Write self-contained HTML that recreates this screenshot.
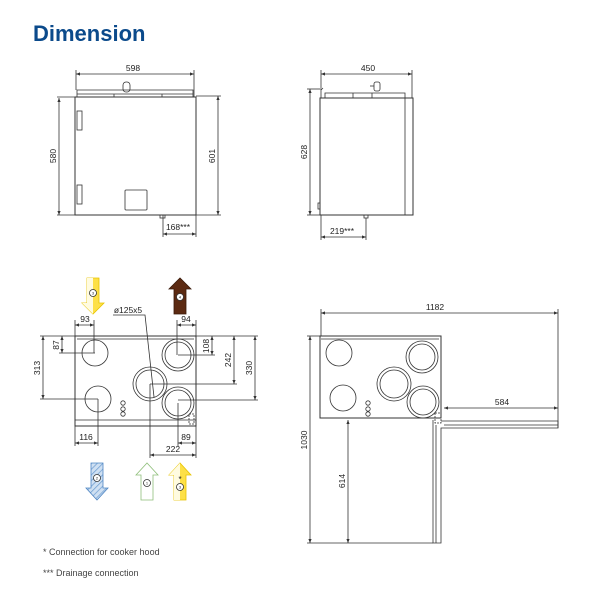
<!DOCTYPE html>
<html><head><meta charset="utf-8"><style>
html,body{margin:0;padding:0;background:#fff;width:601px;height:601px;overflow:hidden}
svg{display:block}
text{font-family:"Liberation Sans",Arial,sans-serif;fill:#222}
</style></head><body>
<svg width="601" height="601" viewBox="0 0 601 601" xmlns="http://www.w3.org/2000/svg">
<defs>
<marker id="a" viewBox="0 0 10 10" refX="10" refY="5" markerWidth="5" markerHeight="5" orient="auto-start-reverse"><path d="M0,1 L10,5 L0,9 z" fill="#333"/></marker>
<pattern id="h" width="4" height="4" patternUnits="userSpaceOnUse" patternTransform="rotate(45)"><rect width="4" height="4" fill="#cfe0f2"/><line x1="0" y1="0" x2="0" y2="4" stroke="#6f9fd2" stroke-width="1.5"/></pattern>
</defs>
<text x="33" y="41" font-size="22" font-weight="bold" style="fill:#0b4a8b">Dimension</text>

<g stroke="#333" stroke-width="0.8" fill="none">
<rect x="75" y="97" width="121" height="118" stroke-width="1"/>
<path d="M77,97 V90 H193 V97"/>
<line x1="77" y1="94" x2="193" y2="94"/>
<line x1="114" y1="94" x2="114" y2="97"/><line x1="162" y1="94" x2="162" y2="97"/>
<rect x="123" y="82" width="7" height="10" rx="3"/>
<rect x="77" y="111" width="5" height="19"/><rect x="77" y="185" width="5" height="19"/>
<rect x="125" y="190" width="22" height="20" rx="1"/>
<rect x="160" y="215" width="5" height="3"/>
<line x1="76" y1="74" x2="194" y2="74" marker-start="url(#a)" marker-end="url(#a)"/>
<line x1="76" y1="70" x2="76" y2="90"/><line x1="194" y1="70" x2="194" y2="97"/>
<line x1="59" y1="98" x2="59" y2="215" marker-start="url(#a)" marker-end="url(#a)"/>
<line x1="57" y1="97" x2="75" y2="97"/><line x1="57" y1="215" x2="75" y2="215"/>
<line x1="218" y1="96" x2="218" y2="215" marker-start="url(#a)" marker-end="url(#a)"/>
<line x1="196" y1="96" x2="221" y2="96"/><line x1="196" y1="215" x2="221" y2="215"/>
<line x1="163" y1="234" x2="196" y2="234" marker-start="url(#a)" marker-end="url(#a)"/>
<line x1="163" y1="215" x2="163" y2="237"/><line x1="196" y1="215" x2="196" y2="237"/>

<rect x="320" y="98" width="93" height="117" stroke-width="1"/>
<line x1="405" y1="98" x2="405" y2="215"/>
<path d="M325,98 V93 H405 V98"/>
<line x1="353" y1="93" x2="353" y2="98"/><line x1="372" y1="93" x2="372" y2="98"/>
<path d="M321,98 V90 L323,88"/>
<rect x="374" y="82" width="6" height="9" rx="2"/><line x1="370" y1="86" x2="374" y2="86"/>
<rect x="318" y="203" width="2" height="6"/>
<rect x="364" y="215" width="4" height="3"/>
<line x1="321" y1="74" x2="412" y2="74" marker-start="url(#a)" marker-end="url(#a)"/>
<line x1="321" y1="70" x2="321" y2="88"/><line x1="412" y1="70" x2="412" y2="98"/>
<line x1="310" y1="89" x2="310" y2="215" marker-start="url(#a)" marker-end="url(#a)"/>
<line x1="307" y1="89" x2="322" y2="89"/><line x1="307" y1="215" x2="320" y2="215"/>
<line x1="321" y1="237" x2="366" y2="237" marker-start="url(#a)" marker-end="url(#a)"/>
<line x1="366" y1="218" x2="366" y2="240"/><line x1="321" y1="215" x2="321" y2="240"/>

<rect x="75" y="336" width="121" height="90" stroke-width="1"/>
<line x1="77" y1="339" x2="194" y2="339"/>
<line x1="75" y1="420" x2="196" y2="420"/>
<circle cx="95" cy="353" r="13"/>
<circle cx="98" cy="399" r="13"/>
<circle cx="150" cy="384" r="14"/><circle cx="150" cy="384" r="17"/>
<circle cx="178" cy="355" r="13"/><circle cx="178" cy="355" r="16"/>
<circle cx="178" cy="403" r="13"/><circle cx="178" cy="403" r="16"/>
<circle cx="123" cy="403" r="2.2"/><circle cx="123" cy="409" r="2.2"/><circle cx="123" cy="414" r="2.2"/>
<rect x="189" y="414" width="5" height="10" stroke-dasharray="2 1"/>
<line x1="75" y1="325" x2="94" y2="325" marker-start="url(#a)" marker-end="url(#a)"/>
<line x1="75" y1="320" x2="75" y2="336"/><line x1="94" y1="320" x2="94" y2="353"/>
<line x1="177" y1="325" x2="196" y2="325" marker-start="url(#a)" marker-end="url(#a)"/>
<line x1="177" y1="320" x2="177" y2="355"/><line x1="196" y1="320" x2="196" y2="336"/>
<line x1="62" y1="336" x2="62" y2="353" marker-start="url(#a)" marker-end="url(#a)"/>
<line x1="59" y1="353" x2="95" y2="353"/>
<line x1="43" y1="336" x2="43" y2="399" marker-start="url(#a)" marker-end="url(#a)"/>
<line x1="40" y1="336" x2="75" y2="336"/><line x1="40" y1="399" x2="98" y2="399"/>
<line x1="212" y1="336" x2="212" y2="355" marker-start="url(#a)" marker-end="url(#a)"/>
<line x1="178" y1="355" x2="215" y2="355"/>
<line x1="234" y1="336" x2="234" y2="384" marker-start="url(#a)" marker-end="url(#a)"/>
<line x1="150" y1="384" x2="237" y2="384"/>
<line x1="255" y1="336" x2="255" y2="400" marker-start="url(#a)" marker-end="url(#a)"/>
<line x1="178" y1="400" x2="258" y2="400"/><line x1="196" y1="336" x2="258" y2="336"/>
<line x1="75" y1="443" x2="98" y2="443" marker-start="url(#a)" marker-end="url(#a)"/>
<line x1="75" y1="426" x2="75" y2="446"/><line x1="98" y1="399" x2="98" y2="446"/>
<line x1="178" y1="443" x2="196" y2="443" marker-start="url(#a)" marker-end="url(#a)"/>
<line x1="178" y1="403" x2="178" y2="446"/><line x1="196" y1="426" x2="196" y2="458"/>
<line x1="150" y1="455" x2="196" y2="455" marker-start="url(#a)" marker-end="url(#a)"/>
<line x1="150" y1="384" x2="150" y2="458"/>
<path d="M113,315 H145 L154,397"/>

<rect x="320" y="336" width="121" height="82" stroke-width="1"/>
<line x1="321" y1="339" x2="439" y2="339"/>
<circle cx="339" cy="353" r="13"/>
<circle cx="343" cy="398" r="13"/>
<circle cx="394" cy="384" r="14"/><circle cx="394" cy="384" r="17"/>
<circle cx="422" cy="357" r="13"/><circle cx="422" cy="357" r="16"/>
<circle cx="423" cy="402" r="13"/><circle cx="423" cy="402" r="16"/>
<circle cx="368" cy="403" r="2.2"/><circle cx="368" cy="409" r="2.2"/><circle cx="368" cy="414" r="2.2"/>
<rect x="435" y="413" width="6" height="10" stroke-dasharray="2 1"/>
<path d="M433,420 V543 H441 V428 H558 V421 H441"/>
<line x1="436" y1="425" x2="436" y2="543"/><line x1="444" y1="425" x2="558" y2="425"/>
<line x1="321" y1="313" x2="558" y2="313" marker-start="url(#a)" marker-end="url(#a)"/>
<line x1="321" y1="309" x2="321" y2="336"/><line x1="558" y1="309" x2="558" y2="428"/>
<line x1="444" y1="408" x2="558" y2="408" marker-start="url(#a)" marker-end="url(#a)"/>
<line x1="310" y1="336" x2="310" y2="543" marker-start="url(#a)" marker-end="url(#a)"/>
<line x1="307" y1="336" x2="320" y2="336"/><line x1="307" y1="543" x2="433" y2="543"/>
<line x1="348" y1="420" x2="348" y2="543" marker-start="url(#a)" marker-end="url(#a)"/>
</g>

<g stroke-width="0.8">
<path d="M87,278 H99 V303 H104 L93,314 L82,303 H87 Z" fill="#fde047" stroke="#e8c400"/>
<path d="M87,278 H93 V314 L82,303 H87 Z" fill="#fffbe0" stroke="none"/>
<circle cx="93" cy="293" r="3.5" fill="#fff" stroke="#333"/>
<path d="M174,314 H186 V289 H191 L180,278 L169,289 H174 Z" fill="#5c2a12" stroke="#3a1a0a"/>
<circle cx="180" cy="297" r="3.5" fill="#fff" stroke="#333"/>
<path d="M91,463 H103 V488 H108 L97,500 L86,488 H91 Z" fill="url(#h)" stroke="#4f86c4"/>
<circle cx="97" cy="478" r="3.5" fill="#fff" stroke="#333"/>
<path d="M141,500 H153 V475 H158 L147,463 L136,475 H141 Z" fill="#fff" stroke="#8fbf7a"/>
<circle cx="147" cy="483" r="3.5" fill="#fff" stroke="#333"/>
<path d="M174,500 H186 V475 H191 L180,463 L169,475 H174 Z" fill="#fde047" stroke="#e8c400"/>
<path d="M174,500 H180 V463 L169,475 H174 Z" fill="#fffbe0" stroke="none"/>
<circle cx="180" cy="487" r="3.5" fill="#fff" stroke="#333"/>
</g>

<g font-size="8.5" text-anchor="middle">
<text x="133" y="71">598</text>
<text x="368" y="71">450</text>
<text x="178" y="230">168***</text>
<text x="342" y="234">219***</text>
<text x="85" y="322">93</text>
<text x="186" y="322">94</text>
<text x="86" y="440">116</text>
<text x="186" y="440">89</text>
<text x="173" y="452">222</text>
<text x="128" y="313">ø125x5</text>
<text x="435" y="310">1182</text>
<text x="502" y="405">584</text>
<text x="180" y="482" font-size="8">*</text>
</g>
<g font-size="8.5" text-anchor="middle">
<text transform="translate(56,156) rotate(-90)">580</text>
<text transform="translate(215,156) rotate(-90)">601</text>
<text transform="translate(307,152) rotate(-90)">628</text>
<text transform="translate(59,345) rotate(-90)">87</text>
<text transform="translate(40,368) rotate(-90)">313</text>
<text transform="translate(209,346) rotate(-90)">108</text>
<text transform="translate(231,360) rotate(-90)">242</text>
<text transform="translate(252,368) rotate(-90)">330</text>
<text transform="translate(307,440) rotate(-90)">1030</text>
<text transform="translate(345,481) rotate(-90)">614</text>
</g>
<g font-size="4" text-anchor="middle">
<text x="93" y="294.5">3</text><text x="180" y="298.5">4</text>
<text x="97" y="479.5">2</text><text x="147" y="484.5">1</text><text x="180" y="488.5">3</text>
</g>
<text x="43" y="555" font-size="9" style="fill:#444">* Connection for cooker hood</text>
<text x="43" y="576" font-size="9" style="fill:#444">*** Drainage connection</text>
</svg>
</body></html>
